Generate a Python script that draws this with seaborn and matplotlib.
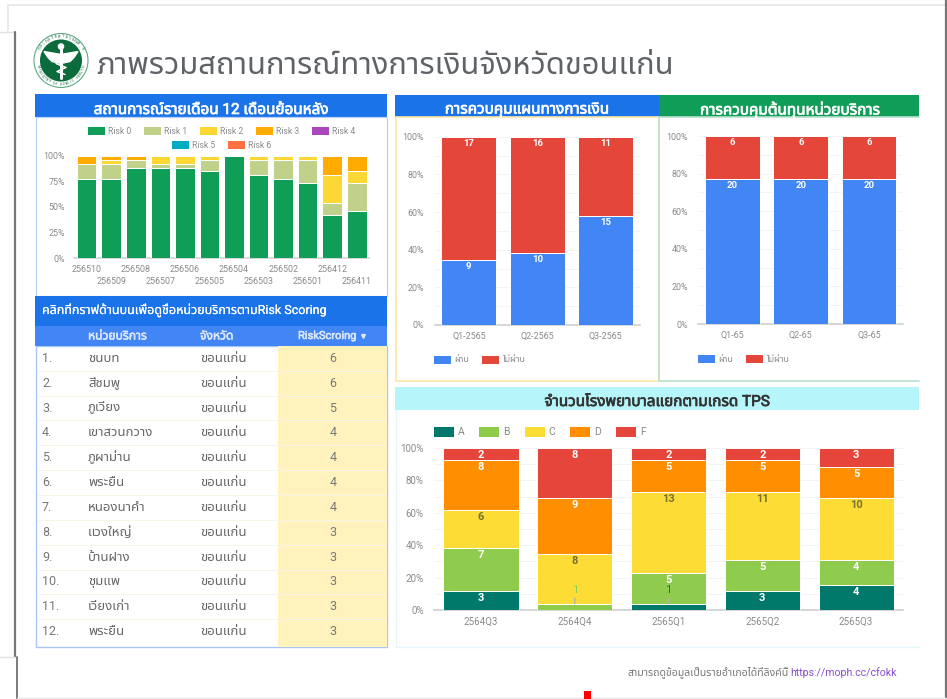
import numpy as np
import matplotlib
matplotlib.use("Agg")
import matplotlib.pyplot as plt
import matplotlib.patheffects as pe
from matplotlib.patches import Rectangle, Circle, Polygon
import seaborn as sns

# Data
months = ['256510', '256509', '256508', '256507', '256506', '256505',
          '256504', '256503', '256502', '256501', '256412', '256411']
risk0 = [20, 20, 23, 23, 23, 22, 26, 21, 20, 19, 11, 12]
risk1 = [4, 4, 2, 1, 1, 3, 0, 4, 5, 6, 3, 7]
risk2 = [0, 1, 0, 2, 2, 1, 0, 1, 1, 1, 7, 3]
risk3 = [2, 1, 1, 0, 0, 0, 0, 0, 0, 0, 5, 4]
risk4 = [0] * 12
risk5 = [0] * 12
risk6 = [0] * 12
risk_names = ['Risk 0', 'Risk 1', 'Risk 2', 'Risk 3', 'Risk 4', 'Risk 5', 'Risk 6']
risk_colors = ['#0F9D58', '#C0D18A', '#FDD835', '#FFAB00', '#AB47BC', '#00ACC1', '#FF7043']

units = ['ชนบท', 'สีชมพู', 'ภูเวียง', 'เขาสวนกวาง', 'ภูผาม่าน', 'พระยืน',
         'หนองนาคำ', 'แวงใหญ่', 'บ้านฝาง', 'ชุมแพ', 'เวียงเก่า', 'พระยืน']
province = 'ขอนแก่น'
scores = [6, 6, 5, 4, 4, 4, 4, 3, 3, 3, 3, 3]

plan_quarters = ['Q1-2565', 'Q2-2565', 'Q3-2565']
plan_pass = [9, 10, 15]
plan_fail = [17, 16, 11]

cost_quarters = ['Q1-65', 'Q2-65', 'Q3-65']
cost_pass = [20, 20, 20]
cost_fail = [6, 6, 6]

tps_quarters = ['2564Q3', '2564Q4', '2565Q1', '2565Q2', '2565Q3']
tps_a = [3, 0, 1, 3, 4]
tps_b = [7, 1, 5, 5, 4]
tps_c = [6, 8, 13, 11, 10]
tps_d = [8, 9, 5, 5, 5]
tps_f = [2, 8, 2, 2, 3]
tps_names = ['A', 'B', 'C', 'D', 'F']
tps_colors = ['#00796B', '#8FCB4D', '#FDDD35', '#FF8F00', '#E5453A']

pass_names = ['ผ่าน', 'ไม่ผ่าน']
pass_colors = ['#4285F4', '#E5463A']

W, H = 947, 699
BLUE = '#1A73E8'
GREY = '#8A8A8A'

sns.set_style('white')
# Roboto for latin and digits, Noto Sans Thai picks up the rest
plt.rcParams['font.family'] = ['Roboto', 'Noto Sans Thai', 'DejaVu Sans']
plt.rcParams['axes.unicode_minus'] = False

fig = plt.figure(figsize=(W / 100, H / 100), dpi=100, facecolor='white')

# page layer in pixel coordinates
bg = fig.add_axes([0, 0, 1, 1], zorder=0)
bg.set_xlim(0, W)
bg.set_ylim(H, 0)
bg.axis('off')


def box(x0, y0, x1, y1, color, edge='none', lw=0, z=1):
    bg.add_patch(Rectangle((x0, y0), x1 - x0, y1 - y0, facecolor=color,
                           edgecolor=edge, linewidth=lw, zorder=z))


def label(x, y, s, size=7, color='#666666', ha='left', stroke=0, z=5):
    t = bg.text(x, y, s, fontsize=size, color=color, ha=ha, va='center', zorder=z)
    if stroke:
        # the Thai font only has one weight, so thicken it with a stroke
        t.set_path_effects([pe.withStroke(linewidth=stroke, foreground=color)])
    return t


def chart_axes(left, top, right, bottom):
    ax = fig.add_axes([left / W, 1 - bottom / H, (right - left) / W, (bottom - top) / H], zorder=2)
    ax.patch.set_alpha(0)
    return ax


def stacked(ax, cats, series, colors, tick_size=6.4, step=20, xpad=5, ypad=7):
    values = np.array(series, dtype=float)
    totals = values.sum(axis=0)
    bottom = np.zeros(len(cats))
    tops = []
    for vals, col in zip(values, colors):
        pct = vals / totals * 100
        sns.barplot(x=cats, y=pct, bottom=bottom, color=col, saturation=1, width=0.8,
                    edgecolor='white', linewidth=0.7, ax=ax, zorder=3)
        bottom = bottom + pct
        tops.append(bottom.copy())
    ax.set_xlim(-0.5, len(cats) - 0.5)
    ax.set_ylim(0, 100)
    ax.set_yticks(np.arange(0, 101, step))
    ax.set_yticklabels([f'{v}%' for v in range(0, 101, step)])
    ax.set_xlabel('')
    ax.set_ylabel('')
    ax.tick_params(axis='both', length=0, labelsize=tick_size, labelcolor=GREY)
    ax.tick_params(axis='x', pad=xpad)
    ax.tick_params(axis='y', pad=ypad)
    for side in ['top', 'left', 'right']:
        ax.spines[side].set_visible(False)
    ax.spines['bottom'].set_color('#CCCCCC')
    ax.spines['bottom'].set_linewidth(1.1)
    return tops


def value_labels(ax, series, tops, colors, size=6.8, offset=4.6):
    for vals, top, col in zip(series, tops, colors):
        for i, (v, t) in enumerate(zip(vals, top)):
            if v == 0:
                continue
            ax.annotate(str(v), xy=(i, t), xytext=(0, -offset), textcoords='offset points',
                        ha='center', va='center', fontsize=size, color=col,
                        fontweight='bold', zorder=6)


def faint_grid(ax, ticks):
    ax.set_yticks(ticks, minor=True)
    ax.tick_params(axis='y', which='minor', length=0)
    ax.grid(axis='y', which='both', color='#F4F4F4', linewidth=0.7, zorder=0)
    ax.set_axisbelow(True)


# screenshot frame
bg.plot([8, 8, 945], [31, 5, 5], color='#E6E6E6', lw=1.2, zorder=1)
bg.plot([0, 15], [31.5, 31.5], color='#E2E2E2', lw=1, zorder=1)
bg.plot([15, 15], [32, 657], color='#777777', lw=1.6, zorder=1)
bg.plot([0, 17], [657, 657], color='#E2E2E2', lw=1, zorder=1)
bg.plot([17, 17], [657, 699], color='#666666', lw=1.2, zorder=1)
bg.plot([945.5, 945.5], [0, 697], color='#777777', lw=1.6, zorder=1)
bg.plot([17, 947], [697.5, 697.5], color='#E6E6E6', lw=1, zorder=1)
box(584, 691, 591, 699, '#FF0000')

# logo
lx, ly = 61, 60.5
bg.add_patch(Circle((lx, ly), 27, facecolor='white', edgecolor='#5FA883', lw=0.8, zorder=2))
bg.add_patch(Circle((lx, ly), 21, facecolor='#0B6B3A', edgecolor='none', zorder=3))
for wing in (1, -1):
    bg.add_patch(Polygon([(lx, ly - 6), (lx + wing * 17, ly - 9), (lx + wing * 13, ly - 3),
                          (lx + wing * 9, ly + 1), (lx, ly + 3)], facecolor='white', zorder=4))
bg.plot([lx, lx], [ly - 15, ly + 17], color='white', lw=2.2, zorder=4)
bg.plot([lx - 5, lx + 5, lx - 4, lx + 4], [ly + 3, ly + 7, ly + 11, ly + 14], color='white', lw=1.1, zorder=4)
bg.add_patch(Circle((lx, ly - 14), 2.6, facecolor='white', zorder=4))
top_ring = 'กระทรวงสาธารณสุข'
for k, ch in enumerate(top_ring):
    a = np.radians(-150 + k * 120 / (len(top_ring) - 1))
    bg.text(lx + 24 * np.cos(a), ly + 24 * np.sin(a), ch, fontsize=3.2, color='#0B6B3A', ha='center',
            va='center', rotation=-np.degrees(a) - 90, zorder=5)
low_ring = 'MINISTRY OF PUBLIC HEALTH'
for k, ch in enumerate(low_ring):
    a = np.radians(165 - k * 150 / (len(low_ring) - 1))
    bg.text(lx + 24 * np.cos(a), ly + 24 * np.sin(a), ch, fontsize=2.6, color='#0B6B3A', ha='center',
            va='center', rotation=90 - np.degrees(a), zorder=5)

label(96, 65, 'ภาพรวมสถานการณ์ทางการเงินจังหวัดขอนแก่น', size=22.3, color='#5F6368')

# left panel: monthly risk
box(35, 94, 387, 117, BLUE)
box(35.5, 117, 387, 296, 'white', edge='#B8D0F5', lw=0.9)
label(211, 110, 'สถานการณ์รายเดือน 12 เดือนย้อนหลัง', size=11, color='white', ha='center', stroke=0.5)
legend_row = [(88, 131), (144, 131), (200, 131), (256, 131), (312, 131), (172, 145), (228, 145)]
for (sx, sy), nm, col in zip(legend_row, risk_names, risk_colors):
    box(sx, sy - 4, sx + 17, sy + 4, col, z=3)
    label(sx + 20, sy, nm, size=6.2, color=GREY)

ax1 = chart_axes(74.4, 155.7, 369, 258)
stacked(ax1, months, [risk0, risk1, risk2, risk3, risk4, risk5, risk6], risk_colors, step=25, ypad=7)
for i, tick in enumerate(ax1.xaxis.get_major_ticks()):
    tick.set_pad(14 if i % 2 else 4.7)

# table
box(35, 296, 387, 326, BLUE, z=3)
box(35, 326, 387, 346, '#4285F4', z=3)
box(35.5, 346, 387, 647, 'white', edge='#A8C7F5', lw=1, z=1)
box(278, 346, 386.5, 646.5, '#FFF2BD', z=2)
label(42, 310, 'คลิกที่กราฟด้านบนเพื่อดูชื่อหน่วยบริการตามRisk Scoring', size=9, color='white', stroke=0.1)
label(88, 336, 'หน่วยบริการ', size=8.7, color='#DCE8FD', stroke=0.4)
label(200, 336, 'จังหวัด', size=8.7, color='#DCE8FD', stroke=0.4)
label(298, 336, 'RiskScroing', size=8, color='#DCE8FD', stroke=0.4)
bg.plot([363], [336], marker='v', ms=2.8, color='#DCE8FD', zorder=5)
row_h = 24.85
for r, (unit, score) in enumerate(zip(units, scores)):
    cy = 358.3 + r * row_h
    if r:
        bg.plot([37, 386], [cy - row_h / 2] * 2, color='#F7F4E8', lw=0.7, zorder=3)
    label(42, cy, f'{r + 1}.', size=9, color='#777777')
    label(88, cy, unit, size=9.5)
    label(200, cy, province, size=9.5)
    label(333, cy, str(score), size=9, color='#777777', ha='center')

# financial plan panel
box(395, 95, 659, 117, BLUE)
box(395.5, 117, 659, 380.5, 'white', edge='#FFE8A6', lw=1.2)
label(527, 110, 'การควบคุมแผนทางการเงิน', size=11, color='white', ha='center', stroke=0.5)
ax2 = chart_axes(434.6, 136.8, 640, 325)
series2 = [plan_pass, plan_fail]
tops2 = stacked(ax2, plan_quarters, series2, pass_colors, xpad=5, ypad=7.5)
faint_grid(ax2, np.arange(10, 100, 20))
value_labels(ax2, series2, tops2, ['white', 'white'])

# unit cost panel
box(659, 95, 919, 117, '#0F9D58')
bg.plot([919, 659, 659, 919], [380.5, 380.5, 117, 117], color='#B7E1CD', lw=1.2, zorder=1)
label(790, 110, 'การควบคุมต้นทุนหน่วยบริการ', size=11, color='white', ha='center', stroke=0.5)
ax3 = chart_axes(698.3, 136, 903.3, 324)
series3 = [cost_pass, cost_fail]
tops3 = stacked(ax3, cost_quarters, series3, pass_colors, xpad=5, ypad=7.5)
faint_grid(ax3, np.arange(10, 100, 20))
value_labels(ax3, series3, tops3, ['white', 'white'])

for sx, sy in [(434, 360), (698, 359)]:
    for dx, nm, col in zip([0, 48], pass_names, pass_colors):
        box(sx + dx, sy - 4, sx + dx + 17, sy + 4, col, z=3)
        label(sx + dx + 20, sy, nm, size=6.4, color=GREY)

# TPS panel
box(395, 387, 919, 410, '#B6F5FA')
bg.plot([919, 395.5, 395.5], [647, 647, 410], color='#E3F8FA', lw=1, zorder=1)
label(657, 402, 'จำนวนโรงพยาบาลแยกตามเกรด TPS', size=11, color='#333333', ha='center', stroke=0.5)
for sx, nm, col in zip([433.5, 479, 524.7, 570, 616], tps_names, tps_colors):
    box(sx, 427, sx + 20, 437, col, z=3)
    label(sx + 24, 431.7, nm, size=7.5, color=GREY)
ax4 = chart_axes(434.1, 448, 903, 610)
series4 = [tps_a, tps_b, tps_c, tps_d, tps_f]
tops4 = stacked(ax4, tps_quarters, series4, tps_colors, tick_size=7, xpad=5, ypad=7.5)
faint_grid(ax4, np.arange(10, 100, 20))
text_cols = ['white', 'white', '#77702E', 'white', 'white']
series4_big = [[v if v > 1 else 0 for v in s] for s in series4]
value_labels(ax4, series4_big, tops4, text_cols, size=8, offset=5)
# the two "1" segments are too thin, so their labels sit above with a leader line
for s_idx, col in [(1, '#8FCB4D'), (0, '#00796B')]:
    for i, v in enumerate(series4[s_idx]):
        if v == 1:
            ax4.annotate(str(v), xy=(i, tops4[s_idx][i]), xytext=(0, 10), textcoords='offset points',
                         ha='center', va='center', fontsize=8, color=col, zorder=6,
                         arrowprops=dict(arrowstyle='-', color='#B5B5A0', lw=1, shrinkA=0, shrinkB=0))

# footer, cut off at the bottom like the screenshot
clip = Rectangle((600, 660), 340, 14.5, transform=bg.transData)
t1 = label(628, 672.5, 'สามารถดูข้อมูลเป็นรายอำเภอได้ที่ลิงค์นี้', size=7.6, color='#777777')
t2 = label(790, 672.5, 'https://moph.cc/cfokk', size=7.6, color='#8A4FD0')
for t in (t1, t2):
    t.set_clip_path(clip)

fig.savefig('out.png', dpi=100, facecolor='white')
